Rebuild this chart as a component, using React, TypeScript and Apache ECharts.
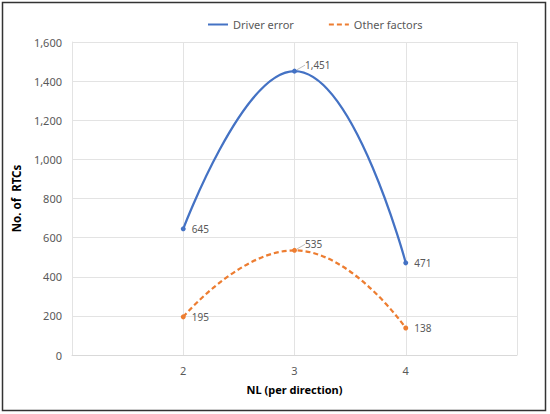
import React, { useEffect, useRef } from "react";
import * as echarts from "echarts";

const xValues = [2, 3, 4];
const driverError = [645, 1451, 471];
const otherFactors = [195, 535, 138];
const seriesNames = ["Driver error", "Other factors"];
const xTitle = "NL (per direction)";
const yTitle = "No. of  RTCs";

const FONT = "Noto Sans";
const LABEL_COLOR = "#595959";

export default function App() {
  const ref = useRef<HTMLDivElement>(null);
  useEffect(() => {
    if (!ref.current) return;
    const chart = echarts.init(ref.current, undefined, { renderer: "svg" });
    const fmt = (v: number) => v.toLocaleString("en-US");
    const mkSeries = (name: string, vals: number[], color: string, dashed: boolean) => ({
      name,
      type: "line",
      data: vals.map((v, i) =>
        i === 1
          ? { value: [xValues[i], v], labelLine: { show: true, lineStyle: { color: "#bfbfbf", width: 1 } } }
          : { value: [xValues[i], v] }
      ),
      smooth: 0.5,
      symbol: "circle",
      symbolSize: 5,
      itemStyle: { color },
      lineStyle: { color, width: 2.25, type: dashed ? [5, 3] : "solid" },
      label: {
        show: true,
        position: "right",
        distance: 6,
        color: LABEL_COLOR,
        fontFamily: FONT,
        fontSize: 10,
        formatter: (p: any) => fmt(p.value[1]),
      },
      labelLine: { show: false },
      labelLayout: (p: any) => (p.dataIndex === 1 ? { dx: 2, dy: -6 } : {}),
    });
    chart.setOption({
      animation: false,
      textStyle: { fontFamily: FONT },
      graphic: [
        {
          type: "rect",
          shape: { x: 2.5, y: 2.5, width: 543, height: 408 },
          style: { fill: "none", stroke: "#333", lineWidth: 1.5 },
          silent: true,
        },
      ],
      legend: {
        top: 14,
        left: 202,
        itemWidth: 20,
        itemHeight: 10,
        itemGap: 34,
        textStyle: { color: LABEL_COLOR, fontSize: 11, fontFamily: FONT },
        itemStyle: { opacity: 0 },
        data: seriesNames,
      },
      grid: { left: 72, right: 33, top: 42, bottom: 59 },
      xAxis: {
        type: "value",
        min: 1,
        max: 5,
        interval: 1,
        name: xTitle,
        nameLocation: "middle",
        nameGap: 29,
        nameTextStyle: { fontWeight: "bold", fontSize: 11, color: "#000", fontFamily: FONT },
        axisLine: { show: true, lineStyle: { color: "#d9d9d9" } },
        axisTick: { show: false },
        axisLabel: {
          color: LABEL_COLOR,
          fontSize: 11,
          margin: 10,
          fontFamily: FONT,
          formatter: (v: number) => (xValues.includes(v) ? String(v) : ""),
        },
        splitLine: { show: true, lineStyle: { color: "#e3e3e3" } },
      },
      yAxis: {
        type: "value",
        min: 0,
        max: 1600,
        interval: 200,
        name: yTitle,
        nameLocation: "middle",
        nameGap: 39,
        nameTextStyle: { fontWeight: "bold", fontSize: 11.5, color: "#000", fontFamily: FONT },
        axisLine: { show: true, lineStyle: { color: "#e3e3e3" } },
        axisTick: { show: false },
        axisLabel: { color: LABEL_COLOR, fontSize: 11, margin: 10, fontFamily: FONT, formatter: fmt },
        splitLine: { show: true, lineStyle: { color: "#e3e3e3" } },
      },
      series: [
        mkSeries(seriesNames[0], driverError, "#4472C4", false),
        mkSeries(seriesNames[1], otherFactors, "#ED7D31", true),
      ],
    });
    return () => chart.dispose();
  }, []);
  return (
    <div
      ref={ref}
      style={{ position: "fixed", left: 0, top: 0, width: 550, height: 414, background: "#fff" }}
    />
  );
}
